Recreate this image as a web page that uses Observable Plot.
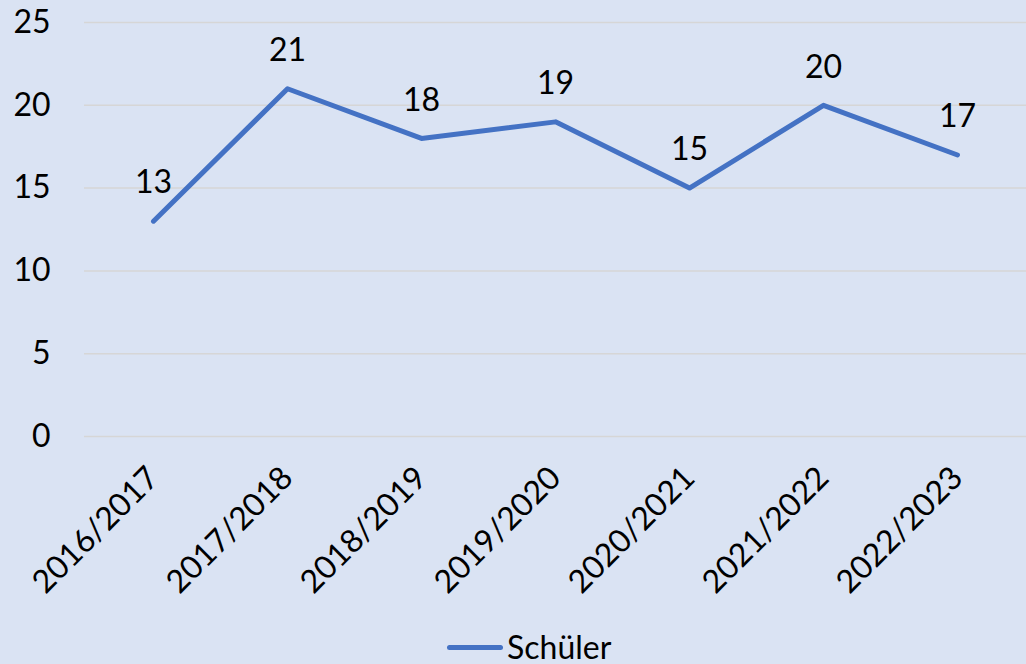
<!DOCTYPE html>
<html>
<head>
<meta charset="utf-8">
<script src="https://cdn.jsdelivr.net/npm/d3@7"></script>
<script src="https://cdn.jsdelivr.net/npm/@observablehq/plot@0.6"></script>
<style>
  html, body { margin: 0; padding: 0; background: #dae3f3; overflow: hidden; }
  #wrap { width: 1026px; height: 664px; position: relative; background: #dae3f3; font-family: Lato, sans-serif; }
  #legend { position: absolute; left: 447px; top: 632px; height: 30px; line-height: 30px; display: flex; align-items: center; font-size: 32px; color: #000; }
  #legend .sw { width: 56px; height: 5px; background: #4472c4; border-radius: 3px; margin-right: 4px; }
</style>
</head>
<body>
<div id="wrap"></div>
<script>
const years = ["2016/2017", "2017/2018", "2018/2019", "2019/2020", "2020/2021", "2021/2022", "2022/2023"];
const schueler = [13, 21, 18, 19, 15, 20, 17];
const yTicks = [0, 5, 10, 15, 20, 25];
const seriesName = "Schüler";

const data = years.map((y, i) => ({year: y, value: schueler[i]}));

const chart = Plot.plot({
  width: 1026,
  height: 620,
  marginTop: 22,
  marginBottom: 184,
  marginLeft: 84,
  marginRight: 0,
  style: {background: "transparent", fontFamily: "Lato, sans-serif", color: "#000"},
  x: {type: "point", domain: years, padding: 0.5, align: 0.5},
  y: {domain: [0, 25], ticks: yTicks},
  marks: [
    Plot.gridY(yTicks, {stroke: "#d6d6d6", strokeOpacity: 1, strokeWidth: 1.5}),
    Plot.axisY({ticks: yTicks, tickSize: 0, tickPadding: 34, fontSize: 32, label: null}),
    Plot.axisX({tickSize: 0, tickRotate: -45, tickPadding: 36, fontSize: 32, label: null}),
    Plot.line(data, {x: "year", y: "value", stroke: "#4472c4", strokeWidth: 5, strokeLinecap: "round", strokeLinejoin: "round"}),
    Plot.text(data, {x: "year", y: "value", text: d => String(d.value), dy: -38, fontSize: 32, fill: "#000"})
  ]
});
document.getElementById("wrap").appendChild(chart);
const lg = document.createElement("div");
lg.id = "legend";
lg.innerHTML = `<div class="sw"></div><span>${seriesName}</span>`;
document.getElementById("wrap").appendChild(lg);
</script>
</body>
</html>
